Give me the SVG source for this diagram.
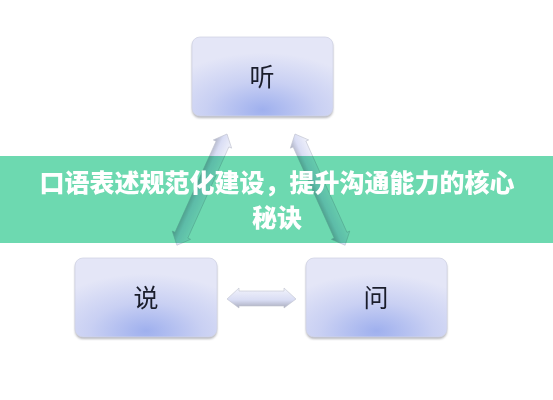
<svg xmlns="http://www.w3.org/2000/svg" width="553" height="400" viewBox="0 0 553 400">
  <defs>
    <radialGradient id="boxFill" cx="0.5" cy="1" r="0.8" fx="0.5" fy="0.92">
      <stop offset="0" stop-color="#9fb0ee"/>
      <stop offset="0.5" stop-color="#c9d0f3"/>
      <stop offset="1" stop-color="#e4e6f7"/>
    </radialGradient>
    <linearGradient id="arrowFill" x1="0" y1="0" x2="0" y2="1">
      <stop offset="0" stop-color="#f2f3fb"/>
      <stop offset="0.6" stop-color="#d9ddf4"/>
      <stop offset="1" stop-color="#a9acbd"/>
    </linearGradient>
    <filter id="soft" x="-10%" y="-10%" width="120%" height="130%">
      <feGaussianBlur stdDeviation="1"/>
    </filter>
    <polygon id="dblArrow" points="0,0 11,-10 11,-7 111,-7 111,-10 122,0 111,10 111,7 11,7 11,10"/>
  </defs>
  <style>
    .box { fill: url(#boxFill); stroke: #d0d3e4; stroke-width: 0.8; }
    .shadow { fill: #85868f; opacity: 0.6; filter: url(#soft); }
    .label { font-family: "Noto Sans CJK SC", "Noto Sans", sans-serif; font-size: 25px; fill: #1a1d2b; text-anchor: middle; }
    .title { font-family: "Noto Sans CJK SC", "Noto Sans", sans-serif; font-size: 25px; font-weight: 900; fill: #ffffff; text-anchor: middle; }
    .arrow { fill: url(#arrowFill); stroke: #bfc2cf; stroke-width: 0.6; mix-blend-mode: multiply; }
  </style>

  <rect width="553" height="400" fill="#ffffff"/>

  <rect x="0" y="156" width="553" height="87" fill="#6dd9b0"/>

  <g id="connectors">
    <use href="#dblArrow" class="arrow" transform="translate(227,134) rotate(114.25)"/>
    <use href="#dblArrow" class="arrow" transform="translate(295,134) rotate(65.75)"/>
    <polygon class="arrow" points="227,299 239,288 239,291 284,291 284,288 296,299 284,308 284,306 239,306 239,308"/>
  </g>

  <g id="node-ting">
    <rect class="shadow" x="192" y="39" width="141" height="79" rx="8"/>
    <rect class="box" x="192" y="37" width="141" height="79" rx="8"/>
    <text class="label" x="262" y="86">听</text>
  </g>

  <g id="node-shuo">
    <rect class="shadow" x="75" y="260" width="142" height="79" rx="8"/>
    <rect class="box" x="75" y="258" width="142" height="79" rx="8"/>
    <text class="label" x="146" y="307">说</text>
  </g>

  <g id="node-wen">
    <rect class="shadow" x="306" y="260" width="141" height="79" rx="8"/>
    <rect class="box" x="306" y="258" width="141" height="79" rx="8"/>
    <text class="label" x="376" y="307">问</text>
  </g>

  <g id="title">
    <text class="title" x="277" y="192">口语表述规范化建设，提升沟通能力的核心</text>
    <text class="title" x="277" y="227">秘诀</text>
  </g>
</svg>
